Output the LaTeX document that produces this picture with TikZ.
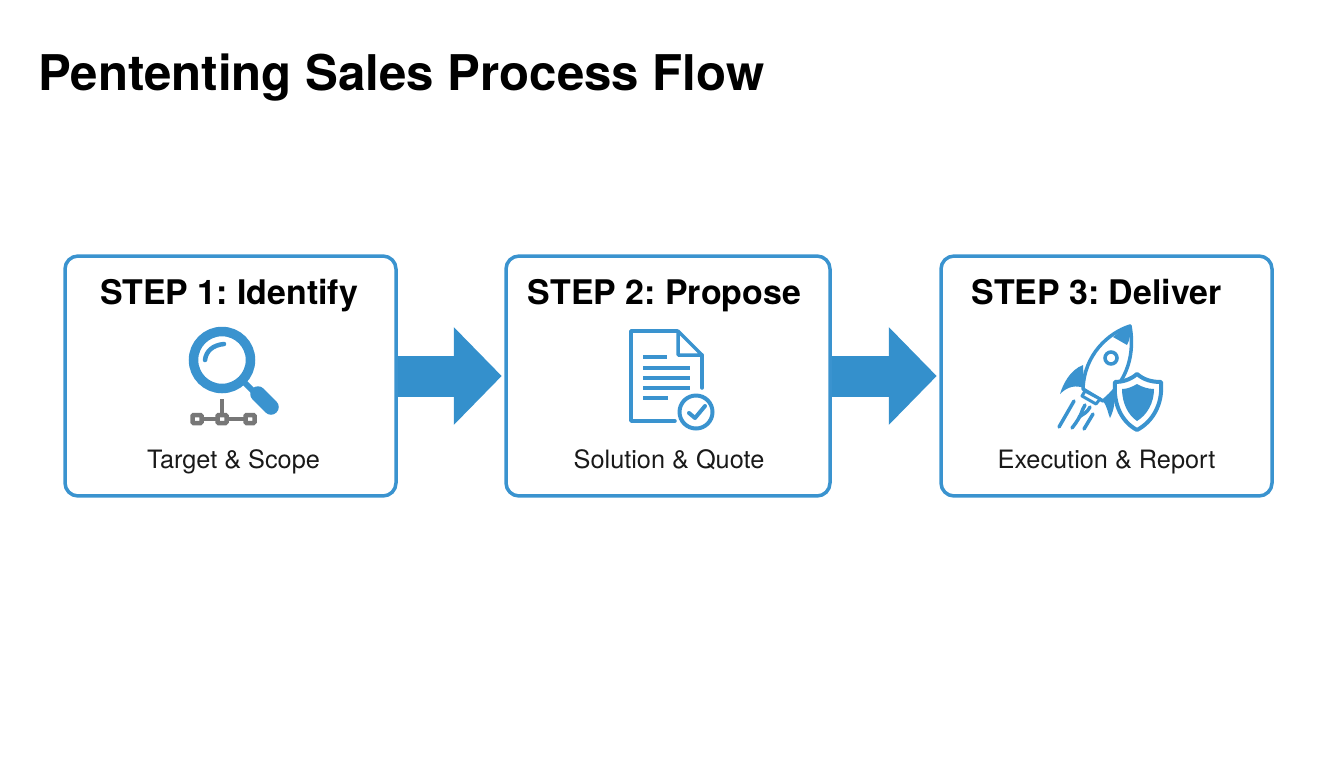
\documentclass[tikz,border=0pt]{standalone}
\usepackage{fontspec}
\setmainfont{TeX Gyre Heros}
\usetikzlibrary{arrows.meta}
\definecolor{stepblue}{HTML}{3A93CF}
\definecolor{flowblue}{HTML}{3490CC}
\definecolor{netgray}{HTML}{777777}
\tikzset{
  stepbox/.style={draw=stepblue, line width=0.07cm, rounded corners=0.26cm, fill=white, inner sep=0pt},
  steptitle/.style={font=\fontsize{19.3}{24}\selectfont\bfseries\frenchspacing, text=black, anchor=base, inner sep=0pt},
  stepnote/.style={font=\fontsize{14.4}{17}\selectfont\frenchspacing, text=black!90, anchor=base, inner sep=0pt},
  flowarrow/.style={-{Triangle[length=0.96cm,width=1.9cm]}, line width=0.82cm, draw=flowblue, shorten >=0.05cm},
  iconline/.style={draw=stepblue, line width=0.07cm, line cap=round, line join=round},
  iconfill/.style={fill=stepblue, draw=none}
}
\begin{document}
\begin{tikzpicture}[x=0.02cm,y=-0.02cm]
\useasboundingbox (0,0) rectangle (1344,768);
\node[anchor=base west, inner sep=0pt, font=\fontsize{28}{34}\selectfont\bfseries] (title) at (38,90) {Pententing Sales Process Flow};
% boxes
\foreach \n/\xc/\w/\xt/\xs/\head/\note in {1/230.5/331/229/233.5/Identify/Target \& Scope,
    2/668/324/664.5/669/Propose/Solution \& Quote,
    3/1106.5/331/1096.5/1106.5/Deliver/Execution \& Report}
{
  \node[stepbox, minimum width=\w*0.02cm, minimum height=4.8cm] (box\n) at (\xc,376) {};
  \node[steptitle] (head\n) at (\xt,304) {STEP \n: \head};
  \node[stepnote] (note\n) at (\xs,468) {\note};
}
\draw[flowarrow] (box1.east) -- (box2.west);
\draw[flowarrow] (box2.east) -- (box3.west);
% magnifier
\draw[draw=stepblue, line width=0.19cm] (222,360) circle (28.5);
\draw[stepblue, line width=0.09cm, line cap=round] (224,344) .. controls (213,345) and (206,351) .. (205,360);
\draw[stepblue, line width=0.12cm] (244,382) -- (254,392);
\draw[stepblue, line width=0.31cm, line cap=round] (258,394) -- (271,407);
% network under the magnifier
\draw[netgray, line width=0.08cm] (222,399) -- (222,414) (197,419) -- (250,419);
\foreach \xn in {197,222,250}
  \draw[netgray, line width=0.09cm, fill=white, rounded corners=0.02cm] (\xn-4.5,415) rectangle (\xn+4.5,423);
% document
\draw[iconline] (677,331) -- (631,331) -- (631,421) -- (675,421);
\draw[iconline] (702,355) -- (702,388);
\draw[iconline] (678,331) -- (702,355) -- (678,355) -- cycle;
\foreach \yl/\xl in {357/667,368/690,378/690,388/690,398/668}
  \draw[stepblue, line width=0.07cm] (643,\yl) -- (\xl,\yl);
\draw[iconline, line width=0.08cm, fill=white] (696,412) circle (16.5);
\draw[iconline, line width=0.08cm] (689,413) -- (695,418) -- (705,406);
% rocket
\fill[stepblue] (1083,365) .. controls (1070,370) and (1063,384) .. (1060,394)
  .. controls (1068,386) and (1076,385) .. (1084,388) -- cycle;
\fill[stepblue] (1113,392) -- (1103,401) .. controls (1108,408) and (1108,414) .. (1110,418)
  .. controls (1114,410) and (1116,400) .. (1113,392) -- cycle;
\draw[iconline, fill=white] (1130,326) .. controls (1108,333) and (1084,355) .. (1083,389)
  -- (1103,401) .. controls (1123,385) and (1136,360) .. (1130,326) -- cycle;
\fill[stepblue] (1130,326) .. controls (1122,329) and (1118,333) .. (1113,337)
  -- (1127,345) .. controls (1130,340) and (1131,332) .. (1130,326) -- cycle;
\draw[stepblue, line width=0.07cm] (1111,358) circle (6);
\draw[stepblue, line width=0.06cm, line join=round, fill=white] (1085,391) -- (1100,399) -- (1096,404) -- (1082,396) -- cycle;
\draw[stepblue, line width=0.07cm, line cap=round] (1074,401) -- (1059,427);
\draw[stepblue, line width=0.07cm, line cap=round] (1085,405) .. controls (1081,411) and (1083,414) .. (1072,428);
\draw[stepblue, line width=0.07cm, line cap=round] (1090,407) .. controls (1087,413) and (1083,414) .. (1079,417);
\draw[stepblue, line width=0.07cm, line cap=round] (1093,414) -- (1084,429);
% shield
\draw[stepblue, line width=0.08cm, line join=round, fill=white] (1137,374) .. controls (1130,380) and (1122,382) .. (1115,382)
  .. controls (1113,405) and (1122,422) .. (1137,430) .. controls (1152,422) and (1163,405) .. (1161,382)
  .. controls (1152,382) and (1144,380) .. (1137,374) -- cycle;
\fill[stepblue] (1137,384) .. controls (1132,387) and (1127,389) .. (1122,389)
  .. controls (1122,403) and (1128,415) .. (1137,421) .. controls (1147,415) and (1154,403) .. (1154,389)
  .. controls (1148,389) and (1142,387) .. (1137,384) -- cycle;
\end{tikzpicture}
\end{document}
